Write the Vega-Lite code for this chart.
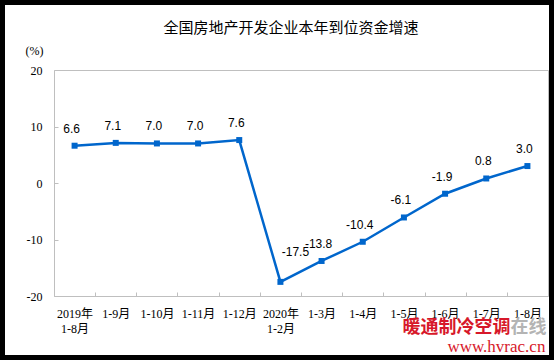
{
  "$schema": "https://vega.github.io/schema/vega-lite/v6.json",
  "width": 544,
  "height": 350,
  "autosize": {"type": "none"},
  "padding": 5,
  "background": "#000000",
  "title": {
    "text": "全国房地产开发企业本年到位资金增速",
    "font": "Noto Sans CJK SC",
    "fontSize": 15,
    "fontWeight": "normal",
    "color": "#000000",
    "anchor": "middle",
    "offset": -46,
    "dx": 14,
    "baseline": "bottom"
  },
  "config": {
    "view": {"fill": "#ffffff", "stroke": null},
    "locale": {"number": {"decimal": ".", "thousands": ",", "grouping": [3], "currency": ["", ""], "minus": "-"}}
  },
  "data": {
    "values": [
      {"month": "2019年\n1-8月", "value": 6.6},
      {"month": "1-9月", "value": 7.1},
      {"month": "1-10月", "value": 7.0},
      {"month": "1-11月", "value": 7.0},
      {"month": "1-12月", "value": 7.6},
      {"month": "2020年\n1-2月", "value": -17.5},
      {"month": "1-3月", "value": -13.8},
      {"month": "1-4月", "value": -10.4},
      {"month": "1-5月", "value": -6.1},
      {"month": "1-6月", "value": -1.9},
      {"month": "1-7月", "value": 0.8},
      {"month": "1-8月", "value": 3.0}
    ]
  },
  "resolve": {"axis": {"x": "independent", "y": "independent"}},
  "layer": [
    {
      "mark": {"type": "line", "color": "#0066CC", "strokeWidth": 2.5},
      "encoding": {
        "x": {
          "field": "month",
          "type": "ordinal",
          "sort": null,
          "scale": {
            "type": "band",
            "domain": ["2019年\n1-8月", "1-9月", "1-10月", "1-11月", "1-12月", "2020年\n1-2月", "1-3月", "1-4月", "1-5月", "1-6月", "1-7月", "1-8月"],
            "range": [49, 543],
            "paddingInner": 0,
            "paddingOuter": 0
          },
          "axis": {
            "orient": "bottom",
            "offset": -59,
            "title": null,
            "grid": false,
            "domainColor": "#BFBFBF",
            "tickColor": "#BFBFBF",
            "tickSize": -4,
            "tickBand": "extent",
            "labelExpr": "datum.value ? split(datum.value, '\\n') : ''",
            "labelFont": "Liberation Serif, Noto Sans CJK SC",
            "labelFontSize": 12,
            "labelColor": "#000000",
            "labelAngle": 0,
            "labelPadding": 16,
            "labelLineHeight": 15,
            "labelBaseline": "top",
            "labelOverlap": false
          }
        },
        "y": {
          "field": "value",
          "type": "quantitative",
          "scale": {"domain": [-20, 20], "range": [291, 65], "nice": false, "zero": false},
          "axis": {
            "orient": "left",
            "offset": -49,
            "values": [-20, -10, 0, 10, 20],
            "grid": false,
            "domainColor": "#BFBFBF",
            "tickColor": "#BFBFBF",
            "tickSize": -4,
            "labelPadding": 16,
            "labelFlush": false,
            "labelFont": "Liberation Serif",
            "labelFontSize": 12,
            "labelColor": "#000000",
            "title": "(%)",
            "titleAngle": 0,
            "titleX": -20,
            "titleY": 45,
            "titleAlign": "center",
            "titleBaseline": "middle",
            "titleFont": "Liberation Serif",
            "titleFontSize": 12,
            "titleFontWeight": "normal",
            "titleColor": "#000000"
          }
        }
      }
    },
    {
      "mark": {"type": "point", "shape": "square", "filled": true, "size": 36, "color": "#0066CC", "opacity": 1},
      "encoding": {
        "x": {
          "field": "month",
          "type": "ordinal",
          "sort": null,
          "axis": {"orient": "top", "offset": -65, "labels": false, "ticks": false, "title": null, "grid": false, "domainColor": "#BFBFBF"}
        },
        "y": {
          "field": "value",
          "type": "quantitative",
          "axis": {"orient": "right", "offset": -1, "labels": false, "ticks": false, "title": null, "grid": false, "domainColor": "#BFBFBF"}
        }
      }
    },
    {
      "transform": [{"filter": "datum.value != -17.5"}],
      "mark": {"type": "text", "font": "Liberation Sans", "fontSize": 12, "color": "#000000", "dx": -3, "dy": -17, "baseline": "middle"},
      "encoding": {
        "x": {"field": "month", "type": "ordinal", "sort": null, "axis": null},
        "y": {"field": "value", "type": "quantitative", "axis": null},
        "text": {"field": "value", "type": "quantitative", "format": ".1f"}
      }
    },
    {
      "transform": [{"filter": "datum.value == -17.5"}],
      "mark": {"type": "text", "font": "Liberation Sans", "fontSize": 12, "color": "#000000", "dx": 15, "dy": -30, "baseline": "middle"},
      "encoding": {
        "x": {"field": "month", "type": "ordinal", "sort": null, "axis": null},
        "y": {"field": "value", "type": "quantitative", "axis": null},
        "text": {"field": "value", "type": "quantitative", "format": ".1f"}
      }
    },
    {
      "data": {"values": [{"mark_text": "暖通制冷空调"}]},
      "mark": {"type": "text", "font": "Noto Sans CJK SC", "fontSize": 18, "fontWeight": "bold", "color": "#D7182A", "align": "right", "baseline": "middle", "dx": -17},
      "encoding": {
        "x": {"datum": "1-8月", "type": "ordinal", "axis": null},
        "y": {"datum": -25.7, "type": "quantitative", "axis": null},
        "text": {"field": "mark_text"}
      }
    },
    {
      "data": {"values": [{"mark_text": "在线"}]},
      "mark": {"type": "text", "font": "Noto Sans CJK SC", "fontSize": 18, "fontWeight": "bold", "color": "#B4B4B4", "align": "left", "baseline": "middle", "dx": -17},
      "encoding": {
        "x": {"datum": "1-8月", "type": "ordinal", "axis": null},
        "y": {"datum": -25.7, "type": "quantitative", "axis": null},
        "text": {"field": "mark_text"}
      }
    },
    {
      "data": {"values": [{"mark_text": "www.hvrac.cn"}]},
      "mark": {"type": "text", "font": "Liberation Serif", "fontSize": 17, "color": "#D7182A", "align": "right", "baseline": "middle", "dx": 18},
      "encoding": {
        "x": {"datum": "1-8月", "type": "ordinal", "axis": null},
        "y": {"datum": -29, "type": "quantitative", "axis": null},
        "text": {"field": "mark_text"}
      }
    }
  ]
}
